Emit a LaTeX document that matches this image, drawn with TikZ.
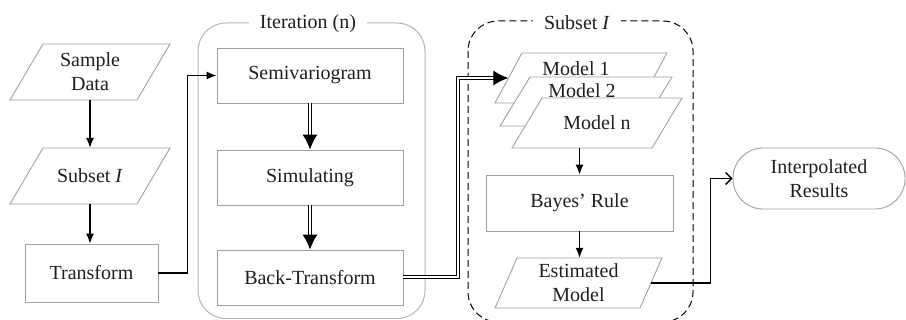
\documentclass[tikz,border=0pt]{standalone}
\usepackage{fontspec}
\setmainfont{Liberation Serif}
\usetikzlibrary{arrows.meta}
\definecolor{boxgray}{HTML}{A0A0A0}
\definecolor{contgray}{HTML}{B4B4B4}
% #1 name, #2 cx, #3 cy, #4 total width, #5 height, #6 slant, #7 text
\newcommand\pgram[7]{%
  \filldraw[pbox] ({#2-#4/2},{#3+#5/2}) -- ({#2+#4/2-#6},{#3+#5/2}) --
    ({#2+#4/2},{#3-#5/2}) -- ({#2-#4/2+#6},{#3-#5/2}) -- cycle;
  \node[minimum width={#4-#6}, minimum height=#5] (#1) at (#2,#3) {#7};}
\begin{document}
\begin{tikzpicture}[x=1pt,y=-1pt,
  every node/.style={font=\fontsize{20}{24}\selectfont, align=center, inner sep=0pt, text=black!88},
  rectbox/.style={draw=boxgray, line width=0.9pt, fill=white, rectangle},
  pbox/.style={draw=boxgray, line width=0.9pt, fill=white},
  conn/.style={line width=1.3pt, -{Latex[length=10pt,width=8pt]}},
  dconn/.style={line width=1pt, double, double distance=2pt, -{Latex[length=15pt,width=15pt]}},
  cont/.style={draw=contgray, line width=1pt, rounded corners=28pt},
  title/.style={fill=white, inner xsep=11pt, inner ysep=2pt}
]
\useasboundingbox (0,0) rectangle (906,320);
\begin{scope}
\clip (0,0) rectangle (906,320);
% containers
\draw[cont] (198,23) rectangle (425,318.5);
\draw[draw=black, line width=1pt, dash pattern=on 7pt off 4pt, rounded corners=30pt] (468,21) rectangle (693,322);
\end{scope}
\node[title] (itT) at (308,24) {Iteration (n)};
\node[title] (subT) at (577,23) {Subset \textit{I}};

% left column
\pgram{sd}{90}{72}{160}{56}{33}{Sample\\Data}
\pgram{ss}{90}{176}{160}{56}{33}{Subset \textit{I}}
\node[rectbox, minimum width=133, minimum height=58] (tr) at (91.5,273) {Transform};

% iteration
\node[rectbox, minimum width=186, minimum height=55] (sv) at (310,75.5) {Semivariogram};
\node[rectbox, minimum width=186, minimum height=55] (sim) at (310,177.5) {Simulating};
\node[rectbox, minimum width=186, minimum height=55] (bt) at (310,277.5) {Back-Transform};

% subset models
\pgram{m1}{581}{78}{172}{50}{27}{}
\node (m1t) at (576,69) {Model 1};
\pgram{m2}{586}{101.5}{172}{49}{30}{}
\node (m2t) at (582,91) {Model 2};
\pgram{mn}{597}{123}{170}{50}{30}{Model n}
\node[rectbox, minimum width=187, minimum height=56] (by) at (579.5,203) {Bayes' Rule};
\pgram{em}{578.5}{283}{167}{50}{22}{Estimated\\Model}

% result
\node[draw=boxgray, line width=0.9pt, rounded corners=30pt, minimum width=172, minimum height=61] (ir) at (819,178.5) {Interpolated\\Results};

% connectors
\draw[conn] (sd.south) -- (ss.north);
\draw[conn] (ss.south) -- (tr.north -| ss.south);
\draw[conn] (tr.east) -- ++(29,0) |- (sv.west);
\draw[dconn] (sv.south) -- (sim.north);
\draw[dconn] (sim.south) -- (bt.north);
\draw[dconn] (bt.east) -- ++(55,0) |- (m1.west);
\draw[conn] (by.north |- mn.south) -- (by.north);
\draw[conn] (by.south) -- (em.north -| by.south);
\draw[line width=1.3pt, -{Straight Barb[length=6pt,width=12pt]}] (em.east) -- ++(59,0) |- (ir.west);
\end{tikzpicture}
\end{document}
